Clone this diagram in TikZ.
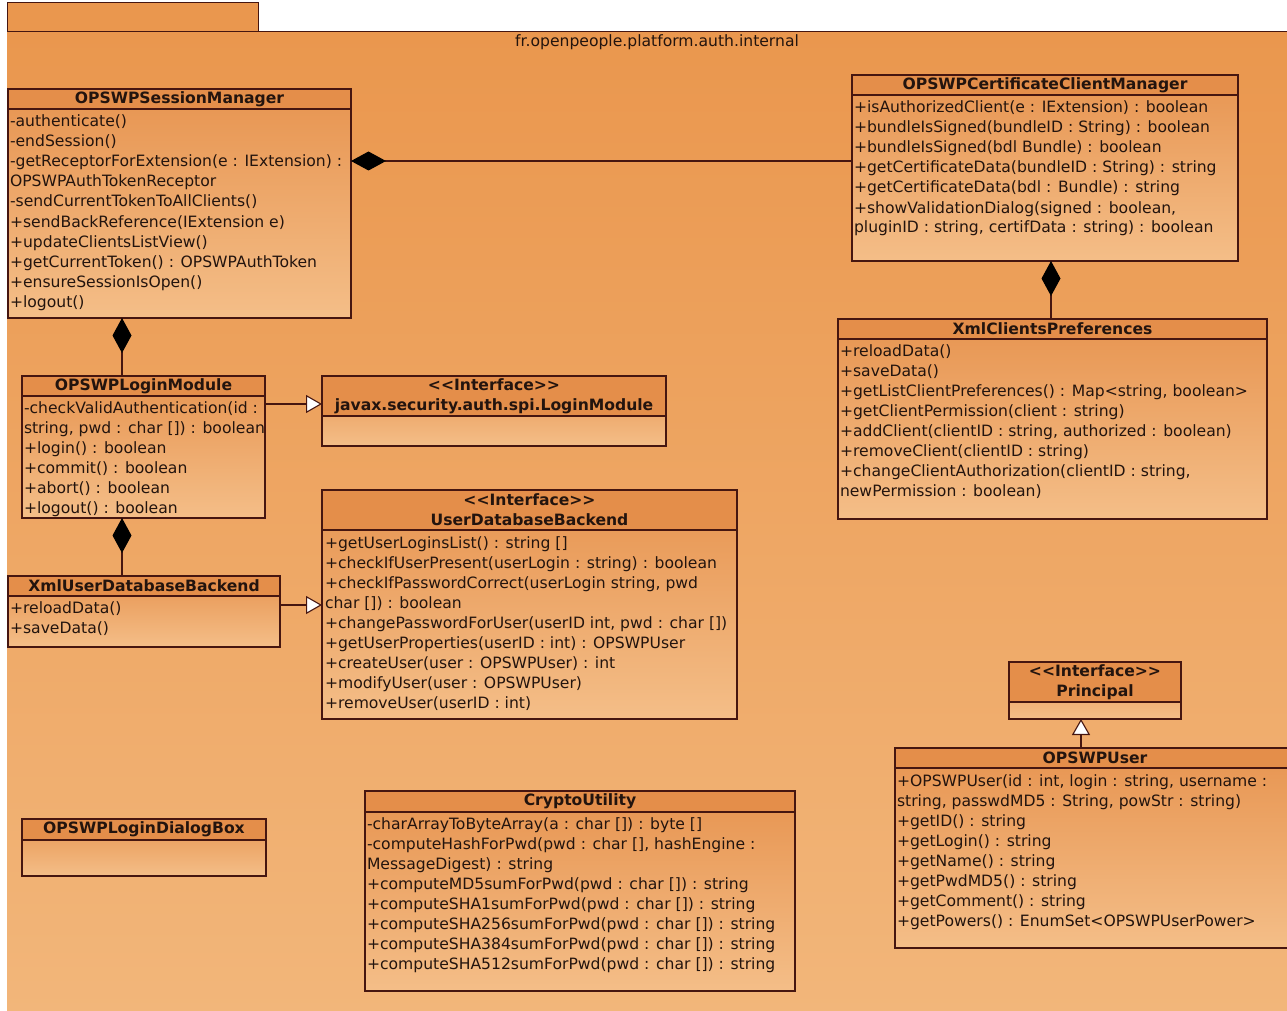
\documentclass[tikz,border=0pt]{standalone}
\usepackage{fontspec}
\setmainfont{DejaVu Sans}
\usetikzlibrary{arrows.meta}
\definecolor{pkgtop}{RGB}{234,151,78}
\definecolor{pkgbot}{RGB}{242,182,122}
\definecolor{boxtop}{RGB}{231,148,80}
\definecolor{boxbot}{RGB}{244,190,136}
\definecolor{hdrfill}{RGB}{228,142,74}
\definecolor{edge}{RGB}{70,22,16}
\definecolor{ink}{RGB}{35,20,14}
\newcommand\mlines[4]{\foreach \t [count=\i] in {#4}{\node[member] (#1-\i) at (#2,{#3+20*(\i-1)}) {\t};}}
\newcommand\stereo{<\kern0pt<Interface>\kern0pt>}
\begin{document}
\begin{tikzpicture}[x=1pt,y=-1pt,
  clsbox/.style={draw=edge, line width=1.1pt, top color=boxtop, bottom color=boxbot, anchor=north west, inner sep=0pt, outer sep=0pt},
  clshdr/.style={draw=edge, line width=1.1pt, fill=hdrfill, anchor=north west, inner sep=0pt, outer sep=0pt, font=\bfseries\fontsize{15.6}{20}\selectfont, text=ink, align=center},
  member/.style={inner sep=0pt, outer sep=0pt, anchor=base west, text=ink, font=\fontsize{15.6}{20}\selectfont},
  conn/.style={draw=edge, line width=1.1pt},
  compo/.style={conn, {Diamond[length=35pt,width=19pt,fill=black,color=black]}-},
  genz/.style={conn, -{Triangle[open,length=16pt,width=18pt,fill=white,color=edge]}}
]
\useasboundingbox (0,0) rectangle (1287,1011);
\fill[white] (0,0) rectangle (1287,1011);
% package
\node[draw=edge, line width=1pt, fill=pkgtop, anchor=north west, inner sep=0pt, outer sep=0pt, minimum width=251, minimum height=29] (pkgtab) at (7,3) {};
\node[top color=pkgtop, bottom color=pkgbot, anchor=north west, inner sep=0pt, outer sep=0pt, minimum width=1285, minimum height=982] (pkgbody) at (7,32) {};
\draw[draw=edge, line width=1pt] (pkgbody.north west) -- (pkgbody.north east);
\node[text=ink, font=\fontsize{15.6}{18}\selectfont] (pkgname) at (657,42) {fr.openpeople.platform.auth.internal};

% OPSWPSessionManager
\node[clsbox, minimum width=343, minimum height=229] (sm) at (8,89) {};
\node[clshdr, minimum width=343, minimum height=20] (smh) at (8,89) {OPSWPSessionManager};
\mlines{smm}{10}{127}{-authenticate(),-endSession(),-getReceptorForExtension(e : IExtension) :,OPSWPAuthTokenReceptor,-sendCurrentTokenToAllClients(),+sendBackReference(IExtension e),+updateClientsListView(),+getCurrentToken() : OPSWPAuthToken,+ensureSessionIsOpen(),+logout()}

% OPSWPCertificateClientManager
\node[clsbox, minimum width=386, minimum height=186] (ccm) at (852,75) {};
\node[clshdr, minimum width=386, minimum height=20] (ccmh) at (852,75) {OPSWPCertificateClientManager};
\mlines{ccmm}{854}{113}{+isAuthorizedClient(e : IExtension) : boolean,+bundleIsSigned(bundleID : String) : boolean,+bundleIsSigned(bdl Bundle) : boolean,+getCertificateData(bundleID : String) : string,+getCertificateData(bdl : Bundle) : string,{+showValidationDialog(signed : boolean,},{pluginID : string, certifData : string) : boolean}}

% XmlClientsPreferences
\node[clsbox, minimum width=429, minimum height=200] (xcp) at (838,319) {};
\node[clshdr, minimum width=429, minimum height=20] (xcph) at (838,319) {XmlClientsPreferences};
\mlines{xcpm}{840}{356}{+reloadData(),+saveData(),{+getListClientPreferences() : Map<string, boolean>},+getClientPermission(client : string),{+addClient(clientID : string, authorized : boolean)},+removeClient(clientID : string),{+changeClientAuthorization(clientID : string,},newPermission : boolean)}

% OPSWPLoginModule
\node[clsbox, minimum width=243, minimum height=142] (lm) at (22,376) {};
\node[clshdr, minimum width=243, minimum height=20] (lmh) at (22,376) {OPSWPLoginModule};
\mlines{lmm}{24}{413}{-checkValidAuthentication(id :,{string, pwd : char []) : boolean},+login() : boolean,+commit() : boolean,+abort() : boolean,+logout() : boolean}

% javax LoginModule interface
\node[clsbox, minimum width=344, minimum height=70] (jx) at (322,376) {};
\node[clshdr, minimum width=344, minimum height=40] (jxh) at (322,376) {\stereo\\javax.security.auth.spi.LoginModule};

% UserDatabaseBackend
\node[clsbox, minimum width=415, minimum height=229] (udb) at (322,490) {};
\node[clshdr, minimum width=415, minimum height=40] (udbh) at (322,490) {\stereo\\UserDatabaseBackend};
\mlines{udbm}{325}{548}{+getUserLoginsList() : string [],+checkIfUserPresent(userLogin : string) : boolean,{+checkIfPasswordCorrect(userLogin string, pwd},char []) : boolean,{+changePasswordForUser(userID int, pwd : char [])},+getUserProperties(userID : int) : OPSWPUser,+createUser(user : OPSWPUser) : int,+modifyUser(user : OPSWPUser),+removeUser(userID : int)}

% XmlUserDatabaseBackend
\node[clsbox, minimum width=272, minimum height=71] (xudb) at (8,576) {};
\node[clshdr, minimum width=272, minimum height=20] (xudbh) at (8,576) {XmlUserDatabaseBackend};
\mlines{xudbm}{10}{613}{+reloadData(),+saveData()}

% OPSWPLoginDialogBox
\node[clsbox, minimum width=244, minimum height=57] (dlg) at (22,819) {};
\node[clshdr, minimum width=244, minimum height=21] (dlgh) at (22,819) {OPSWPLoginDialogBox};

% CryptoUtility
\node[clsbox, minimum width=430, minimum height=200] (cu) at (365,791) {};
\node[clshdr, minimum width=430, minimum height=21] (cuh) at (365,791) {CryptoUtility};
\mlines{cum}{367}{829}{-charArrayToByteArray(a : char []) : byte [],{-computeHashForPwd(pwd : char [], hashEngine :},MessageDigest) : string,+computeMD5sumForPwd(pwd : char []) : string,+computeSHA1sumForPwd(pwd : char []) : string,+computeSHA256sumForPwd(pwd : char []) : string,+computeSHA384sumForPwd(pwd : char []) : string,+computeSHA512sumForPwd(pwd : char []) : string}

% Principal
\node[clsbox, minimum width=172, minimum height=57] (pr) at (1009,662) {};
\node[clshdr, minimum width=172, minimum height=40] (prh) at (1009,662) {\stereo\\Principal};

% OPSWPUser
\node[clsbox, minimum width=400, minimum height=200] (usr) at (895,748) {};
\node[clshdr, minimum width=400, minimum height=20] (usrh) at (895,748) {OPSWPUser};
\mlines{usrm}{897}{786}{{+OPSWPUser(id : int, login : string, username :},{string, passwdMD5 : String, powStr : string)},+getID() : string,+getLogin() : string,+getName() : string,+getPwdMD5() : string,+getComment() : string,+getPowers() : EnumSet<OPSWPUserPower>}

% connectors
\draw[compo] (sm.east |- 0,161) -- (ccm.west |- 0,161);
\draw[compo] (sm.south -| 122,0) -- (lm.north -| 122,0);
\draw[compo] (ccm.south -| 1051,0) -- (xcp.north -| 1051,0);
\draw[compo] (lm.south -| 122,0) -- (xudb.north -| 122,0);
\draw[genz] (lm.east |- 0,404) -- (jx.west |- 0,404);
\draw[genz] (xudb.east |- 0,605) -- (udb.west |- 0,605);
\draw[genz] (usr.north -| 1081,0) -- (pr.south -| 1081,0);
\end{tikzpicture}
\end{document}
